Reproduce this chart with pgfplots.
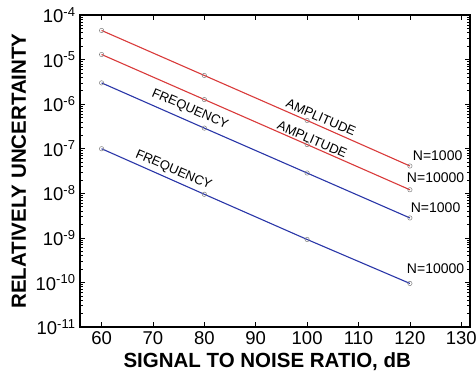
\documentclass[border=0pt]{standalone}
\usepackage{pgfplots}
\pgfplotsset{compat=1.18}
\usepackage{fontspec}
\setmainfont{Liberation Sans}
\definecolor{cred}{HTML}{D93A3A}
\definecolor{cblue}{HTML}{2A36A8}
\begin{document}
\begin{tikzpicture}
\useasboundingbox (-80pt,-51pt) rectangle (396pt,327pt);
\begin{axis}[
  scale only axis, width=390pt, height=312pt,
  ymode=log, xmin=55.8, xmax=131.7, ymin=1e-11, ymax=1e-4,
  xtick={60,70,80,90,100,110,120,130},
  xticklabels={60,70,80,90,100,110,120,130},
  ytick={1e-11,1e-10,1e-9,1e-8,1e-7,1e-6,1e-5,1e-4},
  yticklabels={10\textsuperscript{-11},10\textsuperscript{-10},10\textsuperscript{-9},10\textsuperscript{-8},10\textsuperscript{-7},10\textsuperscript{-6},10\textsuperscript{-5},10\textsuperscript{-4}},
  /pgf/number format/assume math mode=true,
  tick label style={font=\fontsize{18.5}{22}\selectfont},
  xticklabel style={yshift=-1pt},
  yticklabel style={xshift=-1pt},
  axis line style={line width=1.6pt},
  tick align=inside,
  major tick length=5pt, minor tick length=3pt,
  tick style={black, line width=0.6pt},
  xlabel={SIGNAL TO NOISE RATIO, dB},
  ylabel={RELATIVELY UNCERTAINTY},
  label style={font=\fontsize{20.5}{24}\selectfont\bfseries},
  xlabel style={at={(axis description cs:0.48,-0.112)}, anchor=center},
  ylabel style={at={(axis description cs:-0.157,0.5)}, anchor=center},
  every axis plot/.append style={line width=1.1pt, mark=o, mark size=2.2pt, mark options={gray, line width=0.5pt}},
]
\addplot[cred] coordinates {(60,4.5e-5) (80,4.4e-6) (100,4.3e-7) (120,4.1e-8)};
\addplot[cred] coordinates {(60,1.3e-5) (80,1.27e-6) (100,1.24e-7) (120,1.2e-8)};
\addplot[cblue] coordinates {(60,3e-6) (80,2.9e-7) (100,2.85e-8) (120,2.8e-9)};
\addplot[cblue] coordinates {(60,1e-7) (80,9.5e-9) (100,9.2e-10) (120,9.5e-11)};
\node[rotate=-23.4, font=\fontsize{13}{14}\selectfont] at (axis cs:102.7,5e-7) {AMPLITUDE};
\node[rotate=-23.4, font=\fontsize{13}{14}\selectfont] at (axis cs:101,1.6e-7) {AMPLITUDE};
\node[rotate=-23.4, font=\fontsize{13}{14}\selectfont] at (axis cs:77.2,7.7e-7) {FREQUENCY};
\node[rotate=-23.4, font=\fontsize{13}{14}\selectfont] at (axis cs:74,3.3e-8) {FREQUENCY};
\node[font=\fontsize{14}{16}\selectfont] at (axis cs:125.4,6.9e-8) {N=1000};
\node[font=\fontsize{14}{16}\selectfont] at (axis cs:125,2.2e-8) {N=10000};
\node[font=\fontsize{14}{16}\selectfont] at (axis cs:125,4.8e-9) {N=1000};
\node[font=\fontsize{14}{16}\selectfont] at (axis cs:125,2e-10) {N=10000};
\end{axis}
\end{tikzpicture}
\end{document}
